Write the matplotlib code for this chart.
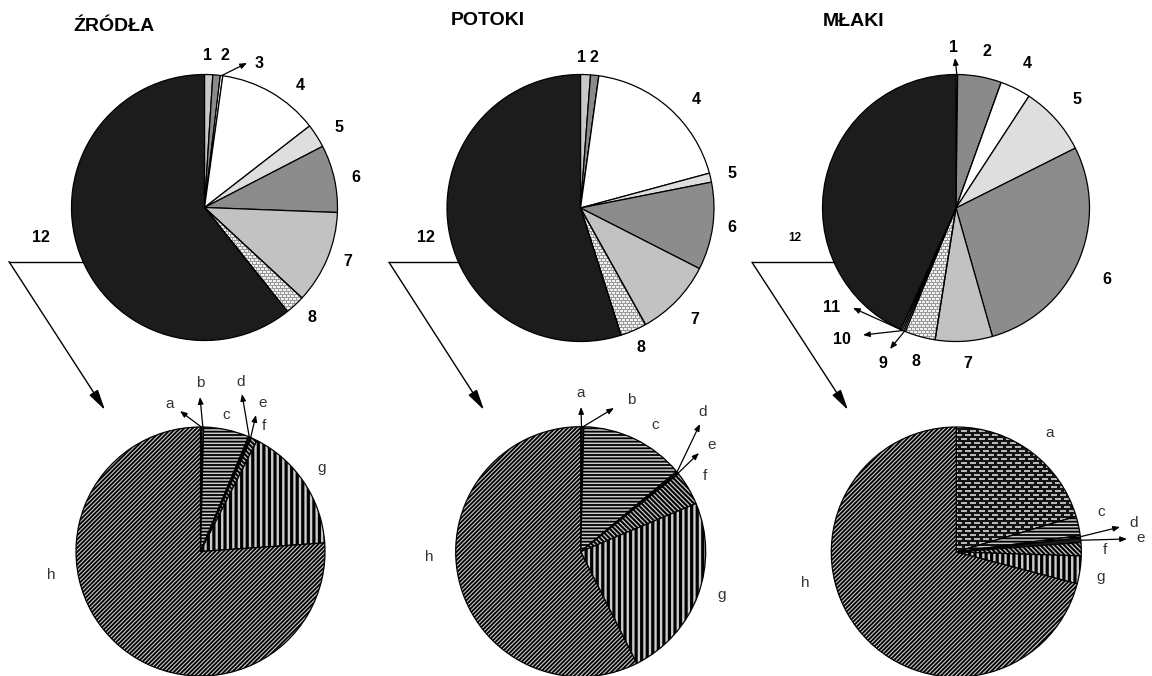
import matplotlib
matplotlib.use("Agg")
import matplotlib.pyplot as plt
import numpy as np

W, H = 1152, 676

plt.rcParams["font.family"] = ["Liberation Sans", "DejaVu Sans"]
plt.rcParams["hatch.linewidth"] = 1.3

# ---- data ---------------------------------------------------------------
TITLES = ["ŹRÓDŁA", "POTOKI", "MŁAKI"]

TOP_CATEGORIES = ["1", "2", "3", "4", "5", "6", "7", "8", "9", "10", "11", "12"]
ZRODLA_TOP = [1.0, 0.9, 0.3, 12.3, 2.9, 8.2, 11.3, 2.4, 0.0, 0.0, 0.0, 60.7]
POTOKI_TOP = [1.2, 1.0, 0.0, 18.6, 1.1, 10.6, 9.4, 3.2, 0.0, 0.0, 0.0, 54.9]
MLAKI_TOP = [0.2, 5.3, 0.0, 3.7, 8.4, 28.0, 6.9, 3.7, 0.2, 0.2, 0.2, 43.2]

SUB_CATEGORIES = ["a", "b", "c", "d", "e", "f", "g", "h"]
ZRODLA_SUB = [0.2, 0.2, 5.9, 0.2, 0.2, 0.8, 16.4, 76.1]
POTOKI_SUB = [0.2, 0.2, 13.5, 0.2, 0.2, 4.4, 23.9, 57.4]
MLAKI_SUB = [20.4, 0.0, 2.5, 0.3, 0.6, 1.7, 3.6, 70.9]

# ---- styles -------------------------------------------------------------
TOP_FILL = {"1": "#c8c8c8", "2": "#8a8a8a", "3": "white", "4": "white",
            "5": "#dedede", "6": "#8c8c8c", "7": "#c2c2c2", "8": "brick_light",
            "9": "white", "10": "white", "11": "white", "12": "#1c1c1c"}
HATCH_FACE = "#cccccc"
# (face, hatch, hatch linewidth)
SUB_FILL = {"a": ("brick_dark", None, None),
            "b": (HATCH_FACE, "....", 1.0),
            "c": (HATCH_FACE, "-----", 1.3),
            "d": (HATCH_FACE, "------", 1.3),
            "e": ("#1a1a1a", None, None),
            "f": (HATCH_FACE, "\\" * 7, 1.5),
            "g": (HATCH_FACE, "|||", 2.3),
            "h": (HATCH_FACE, "/" * 8, 1.3)}
BRICKS = {"brick_light": dict(mortar="#9a9a9a", brick="#f0f0f0", bw=3, bh=2, sx=4, sy=3),
          "brick_dark": dict(mortar="#141414", brick="#b8b8b8", bw=6, bh=2, sx=9, sy=4)}

# ---- layout (pixel coordinates, y measured from the top) ---------------
PANELS = [
    dict(title=(73, 31), top=(204.5, 207.5, 133), sub=(200.5, 551.5, 124.5),
         link_x=9, link_tip=(105, 410),
         top_pos={"1": (207, 55), "2": (225, 55), "3": (259, 63), "4": (300, 86),
                  "5": (339, 128), "6": (356, 178), "7": (348, 262), "8": (312, 317),
                  "12": (41, 237)},
         top_arrows={"3": (247, 63)}, small12=False,
         sub_pos={"a": (170, 404), "b": (200, 383), "c": (226, 415), "d": (241, 382),
                  "e": (263, 403), "f": (264, 426), "g": (322, 468), "h": (51, 575)},
         sub_arrows={"a": (180, 411), "b": (200, 397), "d": (242, 394), "e": (256, 415)}),
    dict(title=(451, 25), top=(580.5, 208, 133.5), sub=(580.7, 551.7, 125),
         link_x=389, link_tip=(484, 410),
         top_pos={"1": (581, 57), "2": (594, 57), "4": (696, 100), "5": (732, 173),
                  "6": (732, 228), "7": (695, 320), "8": (641, 347), "12": (426, 238)},
         top_arrows={}, small12=False,
         sub_pos={"a": (581, 393), "b": (631, 400), "c": (655, 425), "d": (703, 412),
                  "e": (712, 445), "f": (705, 476), "g": (722, 595), "h": (429, 557)},
         sub_arrows={"a": (581, 407), "b": (614, 408), "d": (700, 424), "e": (699, 453)}),
    dict(title=(823, 26), top=(956, 208, 133.5), sub=(956.3, 552, 125),
         link_x=752, link_tip=(848, 410),
         top_pos={"1": (953, 47), "2": (987, 51), "4": (1027, 64), "5": (1077, 100),
                  "6": (1107, 280), "7": (968, 363), "8": (916, 362), "9": (883, 363),
                  "10": (842, 340), "11": (832, 307), "12": (795, 238)},
         top_arrows={"1": (955, 58), "9": (890, 349), "10": (863, 335), "11": (853, 308)},
         small12=True,
         sub_pos={"a": (1050, 433), "c": (1101, 512), "d": (1134, 523), "e": (1141, 538),
                  "f": (1105, 550), "g": (1101, 577), "h": (805, 583)},
         sub_arrows={"d": (1120, 527), "e": (1127, 539)}),
]
LINK_ANGLE = 204  # where the "12" connector leaves the upper pie


def P(x, y):
    """Pixel position (origin top-left) -> data coordinates."""
    return (x, H - y)


def brick_texture(size, mortar, brick, bw, bh, sx, sy):
    yy, xx = np.mgrid[0:size, 0:size]
    shift = ((yy // sy) % 2) * (sx // 2)
    inside = ((xx + shift) % sx < bw) & (yy % sy < bh)
    m = np.array(matplotlib.colors.to_rgb(mortar))
    b = np.array(matplotlib.colors.to_rgb(brick))
    return np.where(inside[..., None], b, m)


def fill_brick(ax, wedge, name):
    cx, cy = wedge.center
    r = wedge.r
    size = int(np.ceil(2 * r)) + 2
    img = brick_texture(size, **BRICKS[name])
    im = ax.imshow(img, extent=(cx - size / 2, cx + size / 2, cy - size / 2, cy + size / 2),
                   interpolation="nearest", zorder=0.5)
    im.set_clip_path(wedge)
    wedge.set_facecolor("none")


def edge_point(wedge):
    th = np.radians(0.5 * (wedge.theta1 + wedge.theta2))
    cx, cy = wedge.center
    return (cx + wedge.r * np.cos(th), cy + wedge.r * np.sin(th))


def small_arrow(ax, start, end):
    ax.annotate("", xy=end, xytext=start,
                arrowprops=dict(arrowstyle="-|>,head_length=0.5,head_width=0.2",
                                color="black", lw=0.9, mutation_scale=8,
                                shrinkA=0, shrinkB=0))


def draw_pie(ax, values, center, radius):
    wedges, _ = ax.pie(values, startangle=90, counterclock=False, center=center,
                       radius=radius, frame=True,
                       wedgeprops=dict(edgecolor="black", linewidth=0.9))
    return wedges


fig = plt.figure(figsize=(W / 100, H / 100), dpi=100)
ax = fig.add_axes([0, 0, 1, 1])

top_data = [ZRODLA_TOP, POTOKI_TOP, MLAKI_TOP]
sub_data = [ZRODLA_SUB, POTOKI_SUB, MLAKI_SUB]

for title, panel, top_vals, sub_vals in zip(TITLES, PANELS, top_data, sub_data):
    tx, ty = panel["title"]
    ax.text(*P(tx, ty), title, fontsize=14, fontweight="bold", ha="left",
            va="baseline")

    # upper pie: main groups 1-12
    cx, cy, r = panel["top"]
    wedges = draw_pie(ax, top_vals, P(cx, cy), r)
    for w, cat in zip(wedges, TOP_CATEGORIES):
        fill = TOP_FILL[cat]
        if fill in BRICKS:
            fill_brick(ax, w, fill)
        else:
            w.set_facecolor(fill)
    by_cat = dict(zip(TOP_CATEGORIES, wedges))
    for cat, (lx, ly) in panel["top_pos"].items():
        size = 8.5 if (cat == "12" and panel["small12"]) else 11.5
        ax.text(*P(lx, ly), cat, fontsize=size, fontweight="bold",
                ha="center", va="center")
    for cat, end in panel["top_arrows"].items():
        small_arrow(ax, edge_point(by_cat[cat]), P(*end))

    # connector from group 12 down to its breakdown
    th = np.radians(LINK_ANGLE)
    c12x, c12y = P(cx, cy)
    start = (c12x + r * np.cos(th), c12y + r * np.sin(th))
    corner = (panel["link_x"], start[1])
    ax.plot([start[0], corner[0]], [start[1], corner[1]], color="black", lw=1.0)
    ax.annotate("", xy=P(*panel["link_tip"]), xytext=corner,
                arrowprops=dict(arrowstyle="-|>,head_length=0.9,head_width=0.22",
                                color="black", lw=1.0, mutation_scale=14,
                                shrinkA=0, shrinkB=0))

    # lower pie: breakdown of group 12 into a-h
    sx, sy, sr = panel["sub"]
    wedges = draw_pie(ax, sub_vals, P(sx, sy), sr)
    for w, cat in zip(wedges, SUB_CATEGORIES):
        face, hatch, hlw = SUB_FILL[cat]
        if face in BRICKS:
            fill_brick(ax, w, face)
        else:
            w.set_facecolor(face)
        if hatch:
            w.set_hatch(hatch)
            if hasattr(w, "set_hatch_linewidth"):
                w.set_hatch_linewidth(hlw)
    by_cat = dict(zip(SUB_CATEGORIES, wedges))
    for cat, (lx, ly) in panel["sub_pos"].items():
        ax.text(*P(lx, ly), cat, fontsize=11, color="#333333",
                ha="center", va="center")
    for cat, end in panel["sub_arrows"].items():
        small_arrow(ax, edge_point(by_cat[cat]), P(*end))

ax.set_xlim(0, W)
ax.set_ylim(0, H)
ax.set_aspect("auto")
ax.axis("off")
fig.savefig("out.png", dpi=100)
